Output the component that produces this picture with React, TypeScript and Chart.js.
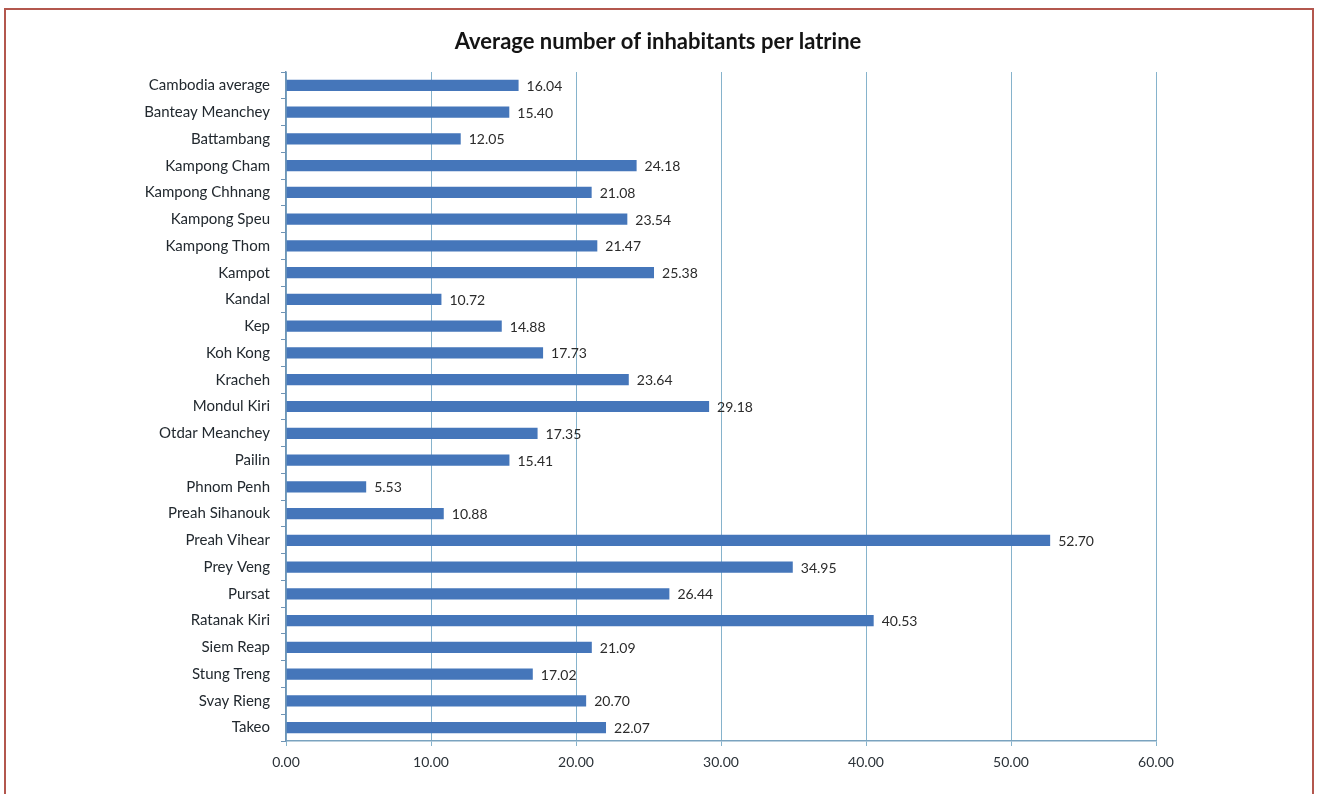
import React, { useEffect, useRef } from "react";
import { Chart, registerables } from "chart.js";

Chart.register(...registerables);

const TITLE = "Average number of inhabitants per latrine";

const categories = [
  "Cambodia average",
  "Banteay Meanchey",
  "Battambang",
  "Kampong Cham",
  "Kampong Chhnang",
  "Kampong Speu",
  "Kampong Thom",
  "Kampot",
  "Kandal",
  "Kep",
  "Koh Kong",
  "Kracheh",
  "Mondul Kiri",
  "Otdar Meanchey",
  "Pailin",
  "Phnom Penh",
  "Preah Sihanouk",
  "Preah Vihear",
  "Prey Veng",
  "Pursat",
  "Ratanak Kiri",
  "Siem Reap",
  "Stung Treng",
  "Svay Rieng",
  "Takeo",
];

const values = [
  16.04, 15.4, 12.05, 24.18, 21.08, 23.54, 21.47, 25.38, 10.72, 14.88, 17.73,
  23.64, 29.18, 17.35, 15.41, 5.53, 10.88, 52.7, 34.95, 26.44, 40.53, 21.09,
  17.02, 20.7, 22.07,
];

const xTicks = [0, 10, 20, 30, 40, 50, 60];

const FONT = "Lato, 'Open Sans', sans-serif";

const titlePlugin = {
  id: "customTitle",
  afterDraw(chart: any) {
    const ctx = chart.ctx;
    ctx.save();
    ctx.font = `bold 22px ${FONT}`;
    ctx.fillStyle = "#141414";
    ctx.textAlign = "center";
    ctx.textBaseline = "middle";
    ctx.fillText(TITLE, 658, 42);
    ctx.restore();
  },
};

const valueLabelPlugin = {
  id: "valueLabels",
  afterDatasetsDraw(chart: any) {
    const ctx = chart.ctx;
    const meta = chart.getDatasetMeta(0);
    ctx.save();
    ctx.font = `14px ${FONT}`;
    ctx.fillStyle = "#2b2b2b";
    ctx.textAlign = "left";
    ctx.textBaseline = "middle";
    meta.data.forEach((bar: any, i: number) => {
      ctx.fillText(values[i].toFixed(2), bar.x + 8, bar.y + 1);
    });
    ctx.restore();
  },
};

export default function App() {
  const canvasRef = useRef<HTMLCanvasElement | null>(null);

  useEffect(() => {
    document.body.style.margin = "0";
    const canvas = canvasRef.current;
    if (!canvas) return;
    const chart = new Chart(canvas, {
      type: "bar",
      data: {
        labels: categories,
        datasets: [
          {
            data: values,
            backgroundColor: "#4576ba",
            borderWidth: 0,
            barPercentage: 0.42,
            categoryPercentage: 1,
          },
        ],
      },
      options: {
        indexAxis: "y",
        animation: false,
        responsive: false,
        maintainAspectRatio: false,
        layout: { padding: { top: 72, right: 164, left: 0, bottom: 0 } },
        plugins: {
          legend: { display: false },
          title: { display: false },
          tooltip: { enabled: false },
        },
        scales: {
          x: {
            type: "linear",
            min: 0,
            max: 60,
            afterBuildTicks(scale: any) {
              scale.ticks = xTicks.map((v) => ({ value: v }));
            },
            afterFit(scale: any) {
              scale.height = 53;
            },
            ticks: {
              callback: (v: any) => Number(v).toFixed(2),
              font: { family: FONT, size: 14 },
              color: "#2b3238",
              padding: 8,
            },
            grid: {
              color: "#86b3cc",
              lineWidth: 1,
              tickLength: 5,
              drawTicks: true,
            },
            border: { color: "#7aa3bf", width: 1.5 },
          },
          y: {
            afterFit(scale: any) {
              scale.width = 286;
            },
            ticks: {
              font: { family: FONT, size: 15 },
              color: "#22292f",
              padding: 11,
              autoSkip: false,
            },
            grid: {
              drawOnChartArea: false,
              drawTicks: true,
              tickLength: 5,
              color: "#6e94b5",
              offset: true,
            },
            border: { color: "#6e94b5", width: 1.5 },
          },
        },
      },
      plugins: [titlePlugin, valueLabelPlugin],
    });
    return () => chart.destroy();
  }, []);

  return (
    <div
      style={{
        position: "fixed",
        left: 0,
        top: 0,
        width: 1320,
        height: 794,
        background: "#ffffff",
        overflow: "hidden",
      }}
    >
      <canvas
        ref={canvasRef}
        width={1320}
        height={794}
        style={{ position: "absolute", left: 0, top: 0, width: 1320, height: 794 }}
      />
      <div
        style={{
          position: "absolute",
          left: 4,
          top: 8,
          width: 1310,
          height: 820,
          boxSizing: "border-box",
          border: "2px solid #b3574e",
          pointerEvents: "none",
        }}
      />
    </div>
  );
}
